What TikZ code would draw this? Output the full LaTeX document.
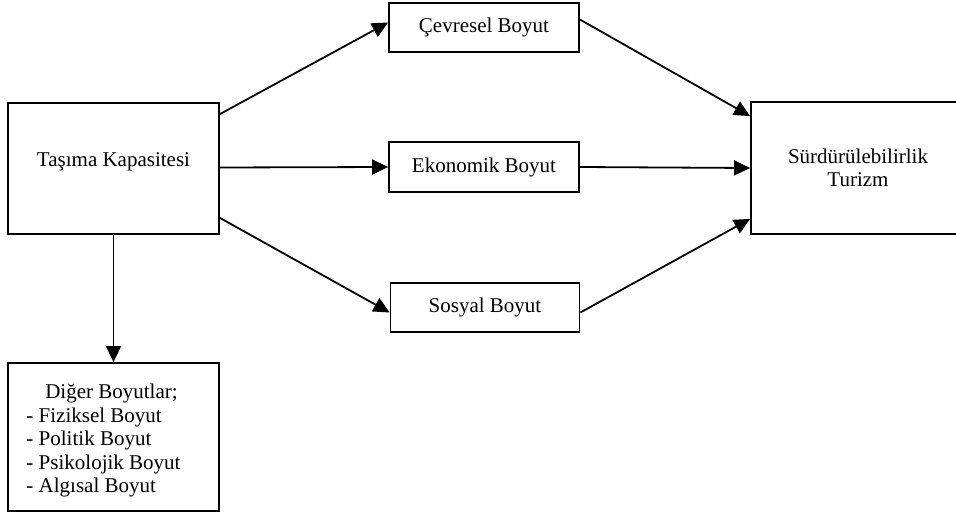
\documentclass[tikz,border=0pt]{standalone}
\usepackage{fontspec}
\setmainfont{Liberation Serif}
\usetikzlibrary{arrows.meta,calc}
\begin{document}
\begin{tikzpicture}[x=1pt,y=-1pt,
  box/.style={draw,line width=1.8pt,inner sep=0pt,align=center,
    font=\fontsize{21}{23.5}\selectfont},
  conn/.style={line width=1.8pt,-{Triangle[length=16pt,width=15pt]}}]
\useasboundingbox (0,0) rectangle (956,516);
\node[box,minimum width=211,minimum height=131] (tk) at (113.5,168.5) {Taşıma Kapasitesi\\[-6pt]};
\node[box,minimum width=190,minimum height=49] (cev) at (484,27.5) {Çevresel Boyut};
\node[box,minimum width=190,minimum height=50] (eko) at (484,167) {Ekonomik Boyut};
\node[box,minimum width=189,minimum height=49] (sos) at (485,307.5) {Sosyal Boyut};
\node[box,minimum width=214,minimum height=132,text width=200pt] (st) at (858,168) {Sürdürülebilirlik\\Turizm};
\node[box,minimum width=211,minimum height=148] (db) at (113.5,437)
  {\begin{tabular}{@{}l@{}}\multicolumn{1}{@{}c@{}}{\rule{0pt}{24.5pt}\hspace*{16pt}Diğer Boyutlar;}\\- Fiziksel Boyut\\- Politik Boyut\\- Psikolojik Boyut\\- Algısal Boyut\end{tabular}\hspace*{20pt}};
\draw[conn] ($(tk.north east)+(0,12)$) -- ($(cev.west)+(0,-5)$);
\draw[conn] ($(tk.east)+(0,-1)$) -- (eko.west);
\draw[conn] ($(tk.south east)+(0,-17)$) -- ($(sos.west)+(0,5)$);
\draw[conn] ($(cev.east)+(0,-8)$) -- ($(st.north west)+(0,15)$);
\draw[conn] (eko.east) -- (st.west -| st.north west);
\draw[conn] ($(sos.east)+(0,5)$) -- ($(st.south west)+(0,-16)$);
\draw[conn] (tk.south) -- (db.north);
\end{tikzpicture}
\end{document}
